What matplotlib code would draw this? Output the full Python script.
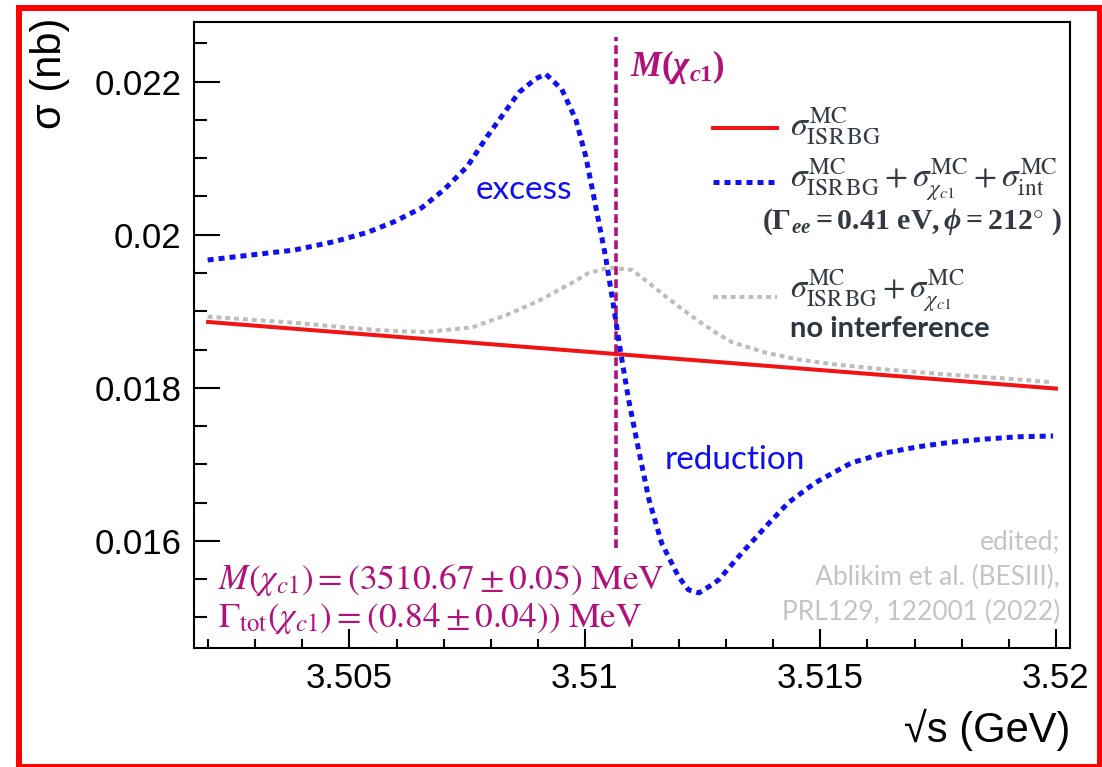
import matplotlib.pyplot as plt
from matplotlib.lines import Line2D
from matplotlib.patches import Rectangle
from matplotlib.ticker import MultipleLocator

# values: sqrt(s) in GeV, sigma in nb
bg_x = [3.502, 3.520]
bg_y = [0.01886, 0.01799]

full_x = [3.50199, 3.50383, 3.50468, 3.50538, 3.50595, 3.50653, 3.50701, 3.50750,
          3.50792, 3.50860, 3.50896, 3.50917, 3.50951, 3.50981, 3.51002, 3.51023,
          3.51044, 3.51061, 3.51076, 3.51093, 3.51114, 3.51136, 3.51163, 3.51199,
          3.51220, 3.51242, 3.51263, 3.51284, 3.51333, 3.51383, 3.51432, 3.51489,
          3.51566, 3.51638, 3.51708, 3.51778, 3.51850, 3.51919, 3.51994]
full_y = [0.01967, 0.01980, 0.01991, 0.02003, 0.02017, 0.02035, 0.02059, 0.02089,
          0.02128, 0.02186, 0.02204, 0.02210, 0.02190, 0.02150, 0.02102, 0.02037,
          0.01971, 0.01906, 0.01846, 0.01784, 0.01719, 0.01654, 0.01597, 0.01553,
          0.01536, 0.01532, 0.01540, 0.01549, 0.01584, 0.01618, 0.01650, 0.01676,
          0.01702, 0.01715, 0.01723, 0.01729, 0.01733, 0.01736, 0.01737]

noint_x = [3.50199, 3.50383, 3.50525, 3.50600, 3.50665, 3.50761, 3.50833, 3.50903,
           3.50972, 3.51008, 3.51051, 3.51100, 3.51136, 3.51172, 3.51206, 3.51242,
           3.51278, 3.51311, 3.51383, 3.51453, 3.51538, 3.51638, 3.51778, 3.51919,
           3.51994]
noint_y = [0.01893, 0.01885, 0.01877, 0.01874, 0.01873, 0.01879, 0.01895, 0.01914,
           0.01937, 0.01950, 0.01957, 0.01954, 0.01937, 0.01919, 0.01903, 0.01887,
           0.01872, 0.01860, 0.01846, 0.01837, 0.01830, 0.01824, 0.01817, 0.01811,
           0.01807]

m_chic1 = 3.51067
m_line_y = [0.01591, 0.02258]

xticks = [3.505, 3.51, 3.515, 3.52]
xtick_labels = ["3.505", "3.51", "3.515", "3.52"]
yticks = [0.016, 0.018, 0.02, 0.022]
ytick_labels = ["0.016", "0.018", "0.02", "0.022"]

plt.rcParams['font.family'] = ['Liberation Sans', 'DejaVu Sans']
plt.rcParams['mathtext.fontset'] = 'stix'
# the "custom" math set is only used for the bold formula texts
plt.rcParams['mathtext.rm'] = 'Liberation Serif:bold'
plt.rcParams['mathtext.it'] = 'Liberation Serif:italic:bold'
plt.rcParams['mathtext.bf'] = 'Liberation Serif:bold'

W, H = 1102, 767
def fx(px):
    return px / W
def fy(py):
    return 1 - py / H

magenta = '#b0127a'
blue = '#1010f0'
gray = '#bdbdbd'
dark = '#333a44'

fig = plt.figure(figsize=(W / 100, H / 100), dpi=100)
ax = fig.add_axes([fx(194), fy(648), fx(1070) - fx(194), fy(22) - fy(648)])

ax.plot(noint_x, noint_y, color=gray, lw=2.9, linestyle=(0, (1.2, 1.0)))
ax.plot(bg_x, bg_y, color='#f01414', lw=2.9)
ax.plot([m_chic1, m_chic1], m_line_y, color=magenta, lw=2.6, linestyle=(0, (2.4, 1.2)))
ax.plot(full_x, full_y, color=blue, lw=3.6, linestyle=(0, (1.2, 1.0)))

ax.set_xlim(3.5017, 3.5203)
ax.set_ylim(0.0146, 0.02278)
ax.set_xticks(xticks)
ax.set_xticklabels(xtick_labels)
ax.set_yticks(yticks)
ax.set_yticklabels(ytick_labels)
ax.xaxis.set_minor_locator(MultipleLocator(0.001))
ax.yaxis.set_minor_locator(MultipleLocator(0.0005))
for s in ax.spines.values():
    s.set_linewidth(1.5)
ax.tick_params(axis='both', which='both', direction='in', width=1.5, labelsize=25)
ax.tick_params(axis='y', which='major', length=19, pad=9)
ax.tick_params(axis='y', which='minor', length=9.5)
ax.tick_params(axis='x', which='major', length=13.5, pad=10)
ax.tick_params(axis='x', which='minor', length=6.5)

fig.text(fx(50), fy(18), 'σ (nb)', rotation=90, ha='center', va='top', fontsize=30)
fig.text(fx(1070), fy(730), '√s (GeV)', ha='right', va='center', fontsize=30)

# annotations
fig.text(fx(524), fy(190), 'excess', ha='center', va='center', color=blue,
         fontsize=24, family='Lato')
fig.text(fx(735), fy(460), 'reduction', ha='center', va='center', color=blue,
         fontsize=24, family='Lato')
fig.text(fx(630), fy(67), r'$M(\chi_{c1})$', ha='left', va='center', color=magenta,
         fontsize=25, math_fontfamily='custom')
fig.text(fx(218), fy(580), r'$M(\chi_{c1}) = (3510.67 \pm 0.05)\ \mathrm{MeV}$',
         ha='left', va='center', color=magenta, fontsize=25.5)
fig.text(fx(218), fy(618), r'$\Gamma_{\mathrm{tot}}(\chi_{c1}) = (0.84 \pm 0.04))\ \mathrm{MeV}$',
         ha='left', va='center', color=magenta, fontsize=25.5)

credit = ['edited;', 'Ablikim et al. (BESIII),', 'PRL129, 122001 (2022)']
for i, line in enumerate(credit):
    fig.text(fx(1060), fy(542 + 35 * i), line, ha='right', va='center',
             color='#c4c4c4', fontsize=19, family='Lato')

# legend
fig.add_artist(Line2D([fx(713), fx(777)], [fy(128)] * 2, color='#f01414', lw=2.9))
fig.add_artist(Line2D([fx(713), fx(777)], [fy(182)] * 2, color=blue, lw=3.6,
                      linestyle=(0, (1.2, 1.0))))
fig.add_artist(Line2D([fx(713), fx(777)], [fy(297)] * 2, color=gray, lw=2.9,
                      linestyle=(0, (1.2, 1.0))))
fig.text(fx(790), fy(126), r'$\sigma^{\mathrm{MC}}_{\mathrm{ISR\,BG}}$',
         va='center', color=dark, fontsize=24.5)
fig.text(fx(790), fy(180),
         r'$\sigma^{\mathrm{MC}}_{\mathrm{ISR\,BG}} + \sigma^{\mathrm{MC}}_{\chi_{c1}} + \sigma^{\mathrm{MC}}_{\mathrm{int}}$',
         va='center', color=dark, fontsize=24)
fig.text(fx(762), fy(222), r'$(\Gamma_{ee} = 0.41\ \mathrm{eV}, \phi = 212^{\circ}\ )$',
         va='center', color=dark, fontsize=21.5, math_fontfamily='custom')
fig.text(fx(790), fy(291), r'$\sigma^{\mathrm{MC}}_{\mathrm{ISR\,BG}} + \sigma^{\mathrm{MC}}_{\chi_{c1}}$',
         va='center', color=dark, fontsize=23.5)
fig.text(fx(790), fy(329), 'no interference', va='center', color='#2e3640',
         fontsize=21, family='Lato', fontweight='bold')

# red frame around the picture
fig.add_artist(Rectangle((fx(19), 0), fx(1100) - fx(19), fy(8), transform=fig.transFigure,
                         fill=False, edgecolor='red', lw=4.3, clip_on=False))

fig.savefig('out.png', dpi=100)
